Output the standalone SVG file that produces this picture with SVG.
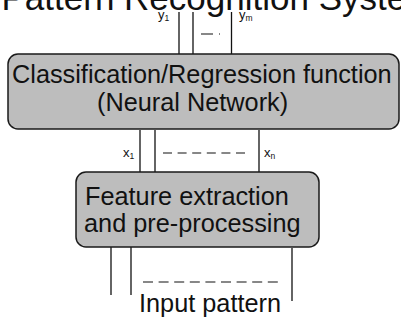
<svg xmlns="http://www.w3.org/2000/svg" width="401" height="323" viewBox="0 0 401 323">
  <style>
    text { font-family: "Liberation Sans", Arial, sans-serif; fill: #111; }
    .box { fill: #bdbdbd; stroke: #1a1a1a; stroke-width: 1.5; }
    .wire { stroke: #111; stroke-width: 1.3; fill: none; }
    .dash { stroke: #111; stroke-width: 1.2; fill: none; }
    .big { font-size: 25.3px; }
    .lbl { font-size: 13px; }
    .sub { font-size: 8.5px; }
  </style>

  <!-- title, running off the top edge -->
  <text x="1.5" y="10" font-size="35">Pattern Recognition System</text>

  <g id="connectors">
    <!-- outputs y1 .. ym -->
    <line class="wire" x1="179" y1="12" x2="179" y2="54"/>
    <line class="wire" x1="193" y1="12" x2="193" y2="54"/>
    <line class="wire" x1="231.5" y1="12" x2="231.5" y2="54"/>
    <line class="dash" x1="201" y1="34" x2="220" y2="34" stroke-dasharray="12 6"/>
    <!-- features x1 .. xn -->
    <line class="wire" x1="140" y1="130" x2="140" y2="172"/>
    <line class="wire" x1="155" y1="130" x2="155" y2="172"/>
    <line class="wire" x1="259" y1="130" x2="259" y2="172"/>
    <line class="dash" x1="163" y1="153" x2="245" y2="153" stroke-dasharray="9 5.6"/>
    <!-- raw inputs -->
    <line class="wire" x1="111" y1="247" x2="111" y2="295"/>
    <line class="wire" x1="131" y1="247" x2="131" y2="295"/>
    <line class="wire" x1="292" y1="248" x2="292" y2="301"/>
    <line class="dash" x1="143" y1="282" x2="278" y2="282" stroke-dasharray="10 5.6"/>
  </g>

  <g id="output-labels">
    <text class="lbl" x="158" y="19">y<tspan class="sub" dy="2">1</tspan></text>
    <text class="lbl" x="239" y="19">y<tspan class="sub" dy="2">m</tspan></text>
  </g>

  <g id="feature-labels">
    <text class="lbl" x="123" y="157">x<tspan class="sub" dy="2">1</tspan></text>
    <text class="lbl" x="264" y="157">x<tspan class="sub" dy="2">n</tspan></text>
  </g>

  <g id="classifier">
    <rect class="box" x="8" y="54" width="391" height="75" rx="10"/>
    <text class="big" x="12" y="83">Classification/Regression function</text>
    <text class="big" x="97" y="111">(Neural Network)</text>
  </g>

  <g id="feature-extraction">
    <rect class="box" x="76" y="172" width="243" height="75" rx="10"/>
    <text class="big" x="85" y="205">Feature extraction</text>
    <text class="big" x="84" y="232">and pre-processing</text>
  </g>

  <g id="input">
    <text class="big" x="139" y="312">Input pattern</text>
  </g>
</svg>
